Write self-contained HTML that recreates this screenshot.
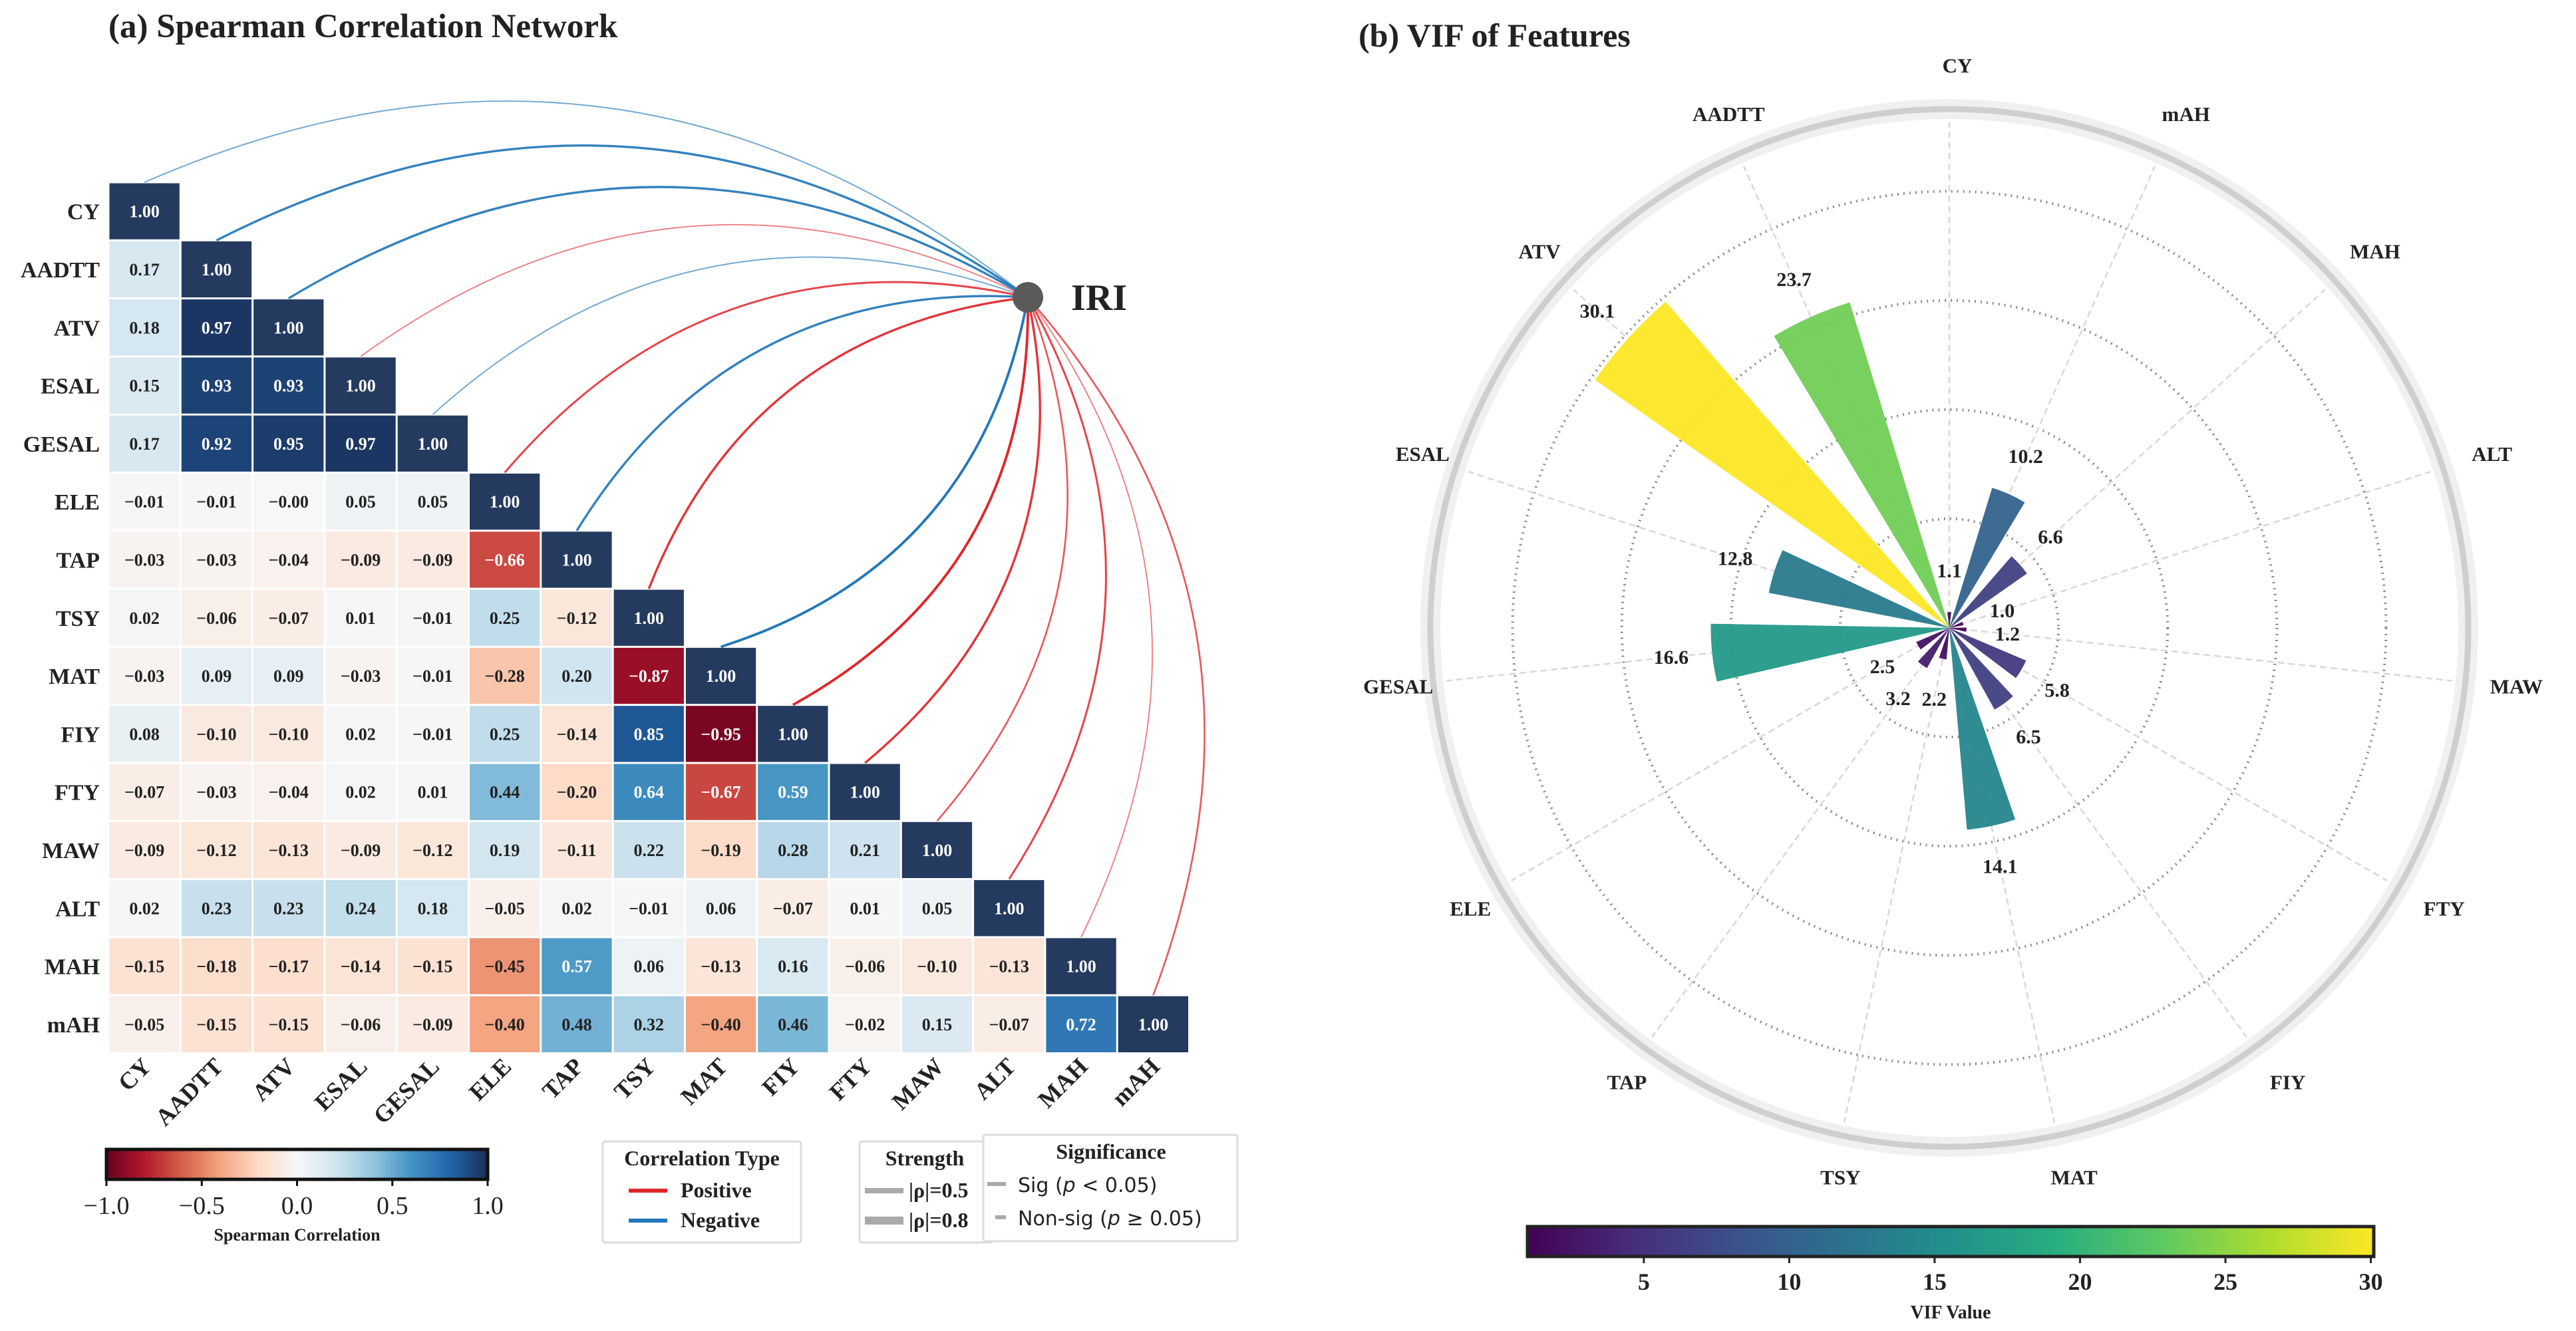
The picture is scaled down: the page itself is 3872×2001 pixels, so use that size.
<!DOCTYPE html>
<html><head><meta charset="utf-8">
<style>
html,body{margin:0;padding:0;background:#fff;}
svg{display:block;font-family:"Liberation Serif",serif;}
</style></head>
<body>
<svg id="fig" width="3872" height="2001" viewBox="0 0 3872 2001" xmlns="http://www.w3.org/2000/svg">
<defs>
<linearGradient id="rdbu" x1="0" x2="1" y1="0" y2="0">
<stop offset="0" stop-color="#67001f"/><stop offset="0.1" stop-color="#b2182b"/><stop offset="0.2" stop-color="#d6604d"/><stop offset="0.3" stop-color="#f4a582"/><stop offset="0.4" stop-color="#fddbc7"/><stop offset="0.5" stop-color="#f7f7f7"/><stop offset="0.6" stop-color="#d1e5f0"/><stop offset="0.7" stop-color="#92c5de"/><stop offset="0.8" stop-color="#4393c3"/><stop offset="0.9" stop-color="#2166ac"/><stop offset="1" stop-color="#1a2e55"/>
</linearGradient>
<linearGradient id="viridis" x1="0" x2="1" y1="0" y2="0">
<stop offset="0" stop-color="#440154"/><stop offset="0.125" stop-color="#472d7b"/><stop offset="0.25" stop-color="#3b528b"/><stop offset="0.375" stop-color="#2c728e"/><stop offset="0.5" stop-color="#21918c"/><stop offset="0.625" stop-color="#28ae80"/><stop offset="0.75" stop-color="#5ec962"/><stop offset="0.875" stop-color="#addc30"/><stop offset="1" stop-color="#fde725"/>
</linearGradient>
</defs>
<text x="163" y="56" font-size="51" font-weight="bold" fill="#222">(a) Spearman Correlation Network</text>
<text x="2042" y="70" font-size="50" font-weight="bold" fill="#222">(b) VIF of Features</text>
<g id="arcs"></g>
<g id="heat"></g>
<g id="polar"></g>
</svg>
<script>
const features = ["CY","AADTT","ATV","ESAL","GESAL","ELE","TAP","TSY","MAT","FIY","FTY","MAW","ALT","MAH","mAH"];
const corrRows = [
[1.00],
[0.17,1.00],
[0.18,0.97,1.00],
[0.15,0.93,0.93,1.00],
[0.17,0.92,0.95,0.97,1.00],
[-0.01,-0.01,-0,0.05,0.05,1.00],
[-0.03,-0.03,-0.04,-0.09,-0.09,-0.66,1.00],
[0.02,-0.06,-0.07,0.01,-0.01,0.25,-0.12,1.00],
[-0.03,0.09,0.09,-0.03,-0.01,-0.28,0.20,-0.87,1.00],
[0.08,-0.10,-0.10,0.02,-0.01,0.25,-0.14,0.85,-0.95,1.00],
[-0.07,-0.03,-0.04,0.02,0.01,0.44,-0.20,0.64,-0.67,0.59,1.00],
[-0.09,-0.12,-0.13,-0.09,-0.12,0.19,-0.11,0.22,-0.19,0.28,0.21,1.00],
[0.02,0.23,0.23,0.24,0.18,-0.05,0.02,-0.01,0.06,-0.07,0.01,0.05,1.00],
[-0.15,-0.18,-0.17,-0.14,-0.15,-0.45,0.57,0.06,-0.13,0.16,-0.06,-0.10,-0.13,1.00],
[-0.05,-0.15,-0.15,-0.06,-0.09,-0.40,0.48,0.32,-0.40,0.46,-0.02,0.15,-0.07,0.72,1.00]
];
const iriCorr = [-0.12,-0.3,-0.3,0.1,-0.12,0.25,-0.3,0.3,-0.35,0.35,0.3,0.2,0.25,0.1,0.2];
const corrTicks = [-1.0,-0.5,0.0,0.5,1.0];
const vifCats = ["CY","AADTT","ATV","ESAL","GESAL","ELE","TAP","TSY","MAT","FIY","FTY","MAW","ALT","MAH","mAH"];
const vifVals = [1.1,23.7,30.1,12.8,16.6,2.5,3.2,2.2,14.1,6.5,5.8,1.2,1.0,6.6,10.2];
const labelOrder = ["CY","mAH","MAH","ALT","MAW","FTY","FIY","MAT","TSY","TAP","ELE","GESAL","ESAL","ATV","AADTT"];
const vifTicks = [5,10,15,20,25,30];
const ringVals = [7.6,15.2,22.8,30.4];

const NS="http://www.w3.org/2000/svg";
function mk(tag,attrs,parent){const e=document.createElementNS(NS,tag);for(const k in attrs)e.setAttribute(k,attrs[k]);parent.appendChild(e);return e;}
function hex(h){return [parseInt(h.substr(1,2),16),parseInt(h.substr(3,2),16),parseInt(h.substr(5,2),16)];}
function interp(stops,t){t=Math.max(0,Math.min(1,t));const n=stops.length-1;const i=Math.min(n-1,Math.floor(t*n));const f=t*n-i;const a=hex(stops[i]),b=hex(stops[i+1]);return "rgb("+a.map((v,k)=>Math.round(v+(b[k]-v)*f)).join(",")+")";}
const RDBU=["#67001f","#b2182b","#d6604d","#f4a582","#fddbc7","#f7f7f7","#d1e5f0","#92c5de","#4393c3","#2166ac","#1a2e55"];
const VIR=["#440154","#472d7b","#3b528b","#2c728e","#21918c","#28ae80","#5ec962","#addc30","#fde725"];

// ---------- Heatmap ----------
const heat=document.getElementById('heat');
const arcs=document.getElementById('arcs');
const L=163,T=274,CW=108.3,CH=87.3;
const xCell=i=>L+i*CW, yCell=i=>T+i*CH;
const fmt=v=>(Object.is(v,-0)?"−0.00":(v<0?"−":"")+Math.abs(v).toFixed(2));
for(let r=0;r<corrRows.length;r++){
  for(let c=0;c<corrRows[r].length;c++){
    const v=corrRows[r][c];
    const col=(r===c)?"#243a5e":interp(RDBU,(v+1)/2);
    const rect=mk('rect',{x:xCell(c)+1.5,y:yCell(r)+1.5,width:CW-3,height:CH-3,fill:col},heat);
    
    
    const t=mk('text',{x:xCell(c)+CW/2,y:yCell(r)+CH/2+9,'font-size':26,'font-weight':'bold','text-anchor':'middle',fill:(Math.abs(v)>0.55||r===c)?"#fff":"#222"},heat);
    t.textContent=fmt(v);
    
    
  }
  const rl=mk('text',{x:150,y:yCell(r)+CH/2+12,'font-size':34,'font-weight':'bold','text-anchor':'end',fill:'#222'},heat);
  rl.textContent=features[r];
  
  
  const cx=xCell(r)+CW/2+12, cy=T+15*CH+22;
  const xl=mk('text',{x:cx,y:cy,'font-size':36,'font-weight':'bold','text-anchor':'end',fill:'#222',transform:'rotate(-45 '+cx+' '+cy+')'},heat);
  xl.textContent=features[r];
  
  
}
// IRI node & arcs
const IX=1545, IY=447;
for(let i=0;i<features.length;i++){
  const sx=xCell(i)+CW/2, sy=yCell(i);
  const dx=IX-sx, dy=IY-sy;
  let px=dy, py=-dx;
  if(px-py<0){px=-px;py=-py;}
  const rad=0.3;
  const cx=(sx+IX)/2+rad*px, cy=(sy+IY)/2+rad*py;
  const v=iriCorr[i];
  const p=mk('path',{d:`M${sx},${sy} Q${cx},${cy} ${IX},${IY}`,fill:'none',stroke:v>0?'#e0262b':'#2378b8','stroke-width':1+8*Math.abs(v),'stroke-opacity':Math.min(1,0.45+1.6*Math.abs(v))},arcs);
  
  
}
const node=mk('circle',{cx:IX,cy:IY,r:23,fill:'#5a5a5a'},arcs);


const iriT=mk('text',{x:1610,y:466,'font-size':56,'font-weight':'bold',fill:'#222'},arcs);
iriT.textContent='IRI';



// correlation colorbar
const cbX0=160,cbX1=733,cbY=1728,cbH=45;
const cb=mk('rect',{x:cbX0,y:cbY,width:cbX1-cbX0,height:cbH,fill:'url(#rdbu)',stroke:'#111','stroke-width':5},heat);


corrTicks.forEach(t=>{
  const x=cbX0+(t+1)/2*(cbX1-cbX0);
  mk('line',{x1:x,x2:x,y1:cbY+cbH,y2:cbY+cbH+10,stroke:'#111','stroke-width':3},heat);
  const tt=mk('text',{x:x,y:1825,'font-size':38,'text-anchor':'middle',fill:'#222'},heat);
  tt.textContent=(t<0?"−":"")+Math.abs(t).toFixed(1);
  
  
});
const cbl=mk('text',{x:(cbX0+cbX1)/2,y:1865,'font-size':26,'font-weight':'bold','text-anchor':'middle',fill:'#222'},heat);
cbl.textContent='Spearman Correlation';



// legends
function box(x,y,w,h,name){const b=mk('rect',{x:x,y:y,width:w,height:h,fill:'#fff',stroke:'#ddd','stroke-width':3,rx:4},heat);}
function txt(x,y,s,size,w,anchor,name,fam){const t=mk('text',{x:x,y:y,'font-size':size,'font-weight':w,'text-anchor':anchor||'start',fill:'#222'},heat);if(fam)t.setAttribute('font-family',fam);t.textContent=s;return t;}
box(906,1716,298,152,'legend-correlation-type');
txt(1055,1752,'Correlation Type',32,'bold','middle','legend-title-correlation');
mk('line',{x1:945,x2:1003,y1:1790,y2:1790,stroke:'#e0262b','stroke-width':6},heat);
txt(1023,1800,'Positive',32,'bold','start','legend-positive');
mk('line',{x1:945,x2:1003,y1:1835,y2:1835,stroke:'#2378b8','stroke-width':6},heat);
txt(1023,1845,'Negative',32,'bold','start','legend-negative');
box(1292,1716,200,152,'legend-strength');
txt(1390,1752,'Strength',32,'bold','middle','legend-title-strength');
mk('line',{x1:1300,x2:1358,y1:1790,y2:1790,stroke:'#aaa','stroke-width':8},heat);
txt(1366,1800,'|ρ|=0.5',32,'bold','start','legend-strength-05');
mk('line',{x1:1300,x2:1358,y1:1835,y2:1835,stroke:'#aaa','stroke-width':12},heat);
txt(1366,1845,'|ρ|=0.8',32,'bold','start','legend-strength-08');
box(1478,1706,382,160,'legend-significance');
txt(1670,1742,'Significance',32,'bold','middle','legend-title-significance');
mk('line',{x1:1484,x2:1512,y1:1780,y2:1780,stroke:'#aaa','stroke-width':6},heat);
const s1=txt(1530,1792,'',30,'normal','start','legend-sig','"DejaVu Sans",sans-serif');
s1.innerHTML='Sig (<tspan font-style="italic">p</tspan> &lt; 0.05)';
mk('line',{x1:1496,x2:1512,y1:1830,y2:1830,stroke:'#aaa','stroke-width':6},heat);
const s2=txt(1530,1842,'',30,'normal','start','legend-nonsig','"DejaVu Sans",sans-serif');
s2.innerHTML='Non-sig (<tspan font-style="italic">p</tspan> ≥ 0.05)';

// ---------- Polar VIF ----------
const polar=document.getElementById('polar');
const PX=2930, PY=944, R=780;
const vMax=Math.max(...vifVals)*1.2;
const vMin=Math.min(...vifVals);
const rScale=v=>v/vMax*R;
const step=360/vifCats.length;
const angOf=i=>-i*step; // counterclockwise
const pt=(deg,r)=>[PX+r*Math.sin(deg*Math.PI/180), PY-r*Math.cos(deg*Math.PI/180)];
const halo=mk('circle',{cx:PX,cy:PY,r:R,fill:'none',stroke:'#f0f0f0','stroke-width':30},polar);


const outer=mk('circle',{cx:PX,cy:PY,r:R,fill:'none',stroke:'#cfcfcf','stroke-width':9},polar);


ringVals.forEach(v=>{
  const c=mk('circle',{cx:PX,cy:PY,r:rScale(v),fill:'none',stroke:'#8a8a8a','stroke-width':4,'stroke-dasharray':'2 7'},polar);
  
  
});
for(let i=0;i<vifCats.length;i++){
  const a=angOf(i);const e=pt(a,R-20);
  const l=mk('line',{x1:PX,y1:PY,x2:e[0],y2:e[1],stroke:'#d8d8d8','stroke-width':2.5,'stroke-dasharray':'10 6'},polar);
  
  
}
const halfW=7;
vifCats.forEach((c,i)=>{
  const v=vifVals[i], a=angOf(i), r=rScale(v);
  const p1=pt(a-halfW,r), p2=pt(a+halfW,r);
  const col=interp(VIR,(v-vMin)/(30.1-vMin));
  const bar=mk('path',{d:`M${PX},${PY} L${p1[0]},${p1[1]} A${r},${r} 0 0 1 ${p2[0]},${p2[1]} Z`,fill:col,'fill-opacity':0.95},polar);
  
  
  const lp=pt(a,r+62);
  const t=mk('text',{x:lp[0],y:lp[1]+10,'font-size':30,'font-weight':'bold','text-anchor':'middle',fill:'#222'},polar);
  t.textContent=v.toFixed(1);
  
  
});
labelOrder.forEach((c,i)=>{
  const lp=pt(i*step,845);
  const t=mk('text',{x:lp[0]+12,y:lp[1]+10,'font-size':31,'font-weight':'bold','text-anchor':'middle',fill:'#222'},polar);
  t.textContent=c;
  
  
});
// viridis colorbar
const vx0=2296,vx1=3568,vy=1844,vh=45;
const vcb=mk('rect',{x:vx0,y:vy,width:vx1-vx0,height:vh,fill:'url(#viridis)',stroke:'#222','stroke-width':5},polar);


vifTicks.forEach(t=>{
  const x=vx0+(t-vMin)/(30.1-vMin)*(vx1-vx0);
  mk('line',{x1:x,x2:x,y1:vy+vh,y2:vy+vh+10,stroke:'#222','stroke-width':3},polar);
  const tt=mk('text',{x:x,y:1939,'font-size':36,'font-weight':'bold','text-anchor':'middle',fill:'#222'},polar);
  tt.textContent=t;
  
  
});
const vl=mk('text',{x:(vx0+vx1)/2,y:1982,'font-size':28,'font-weight':'bold','text-anchor':'middle',fill:'#222'},polar);
vl.textContent='VIF Value';


</script>
</body></html>
